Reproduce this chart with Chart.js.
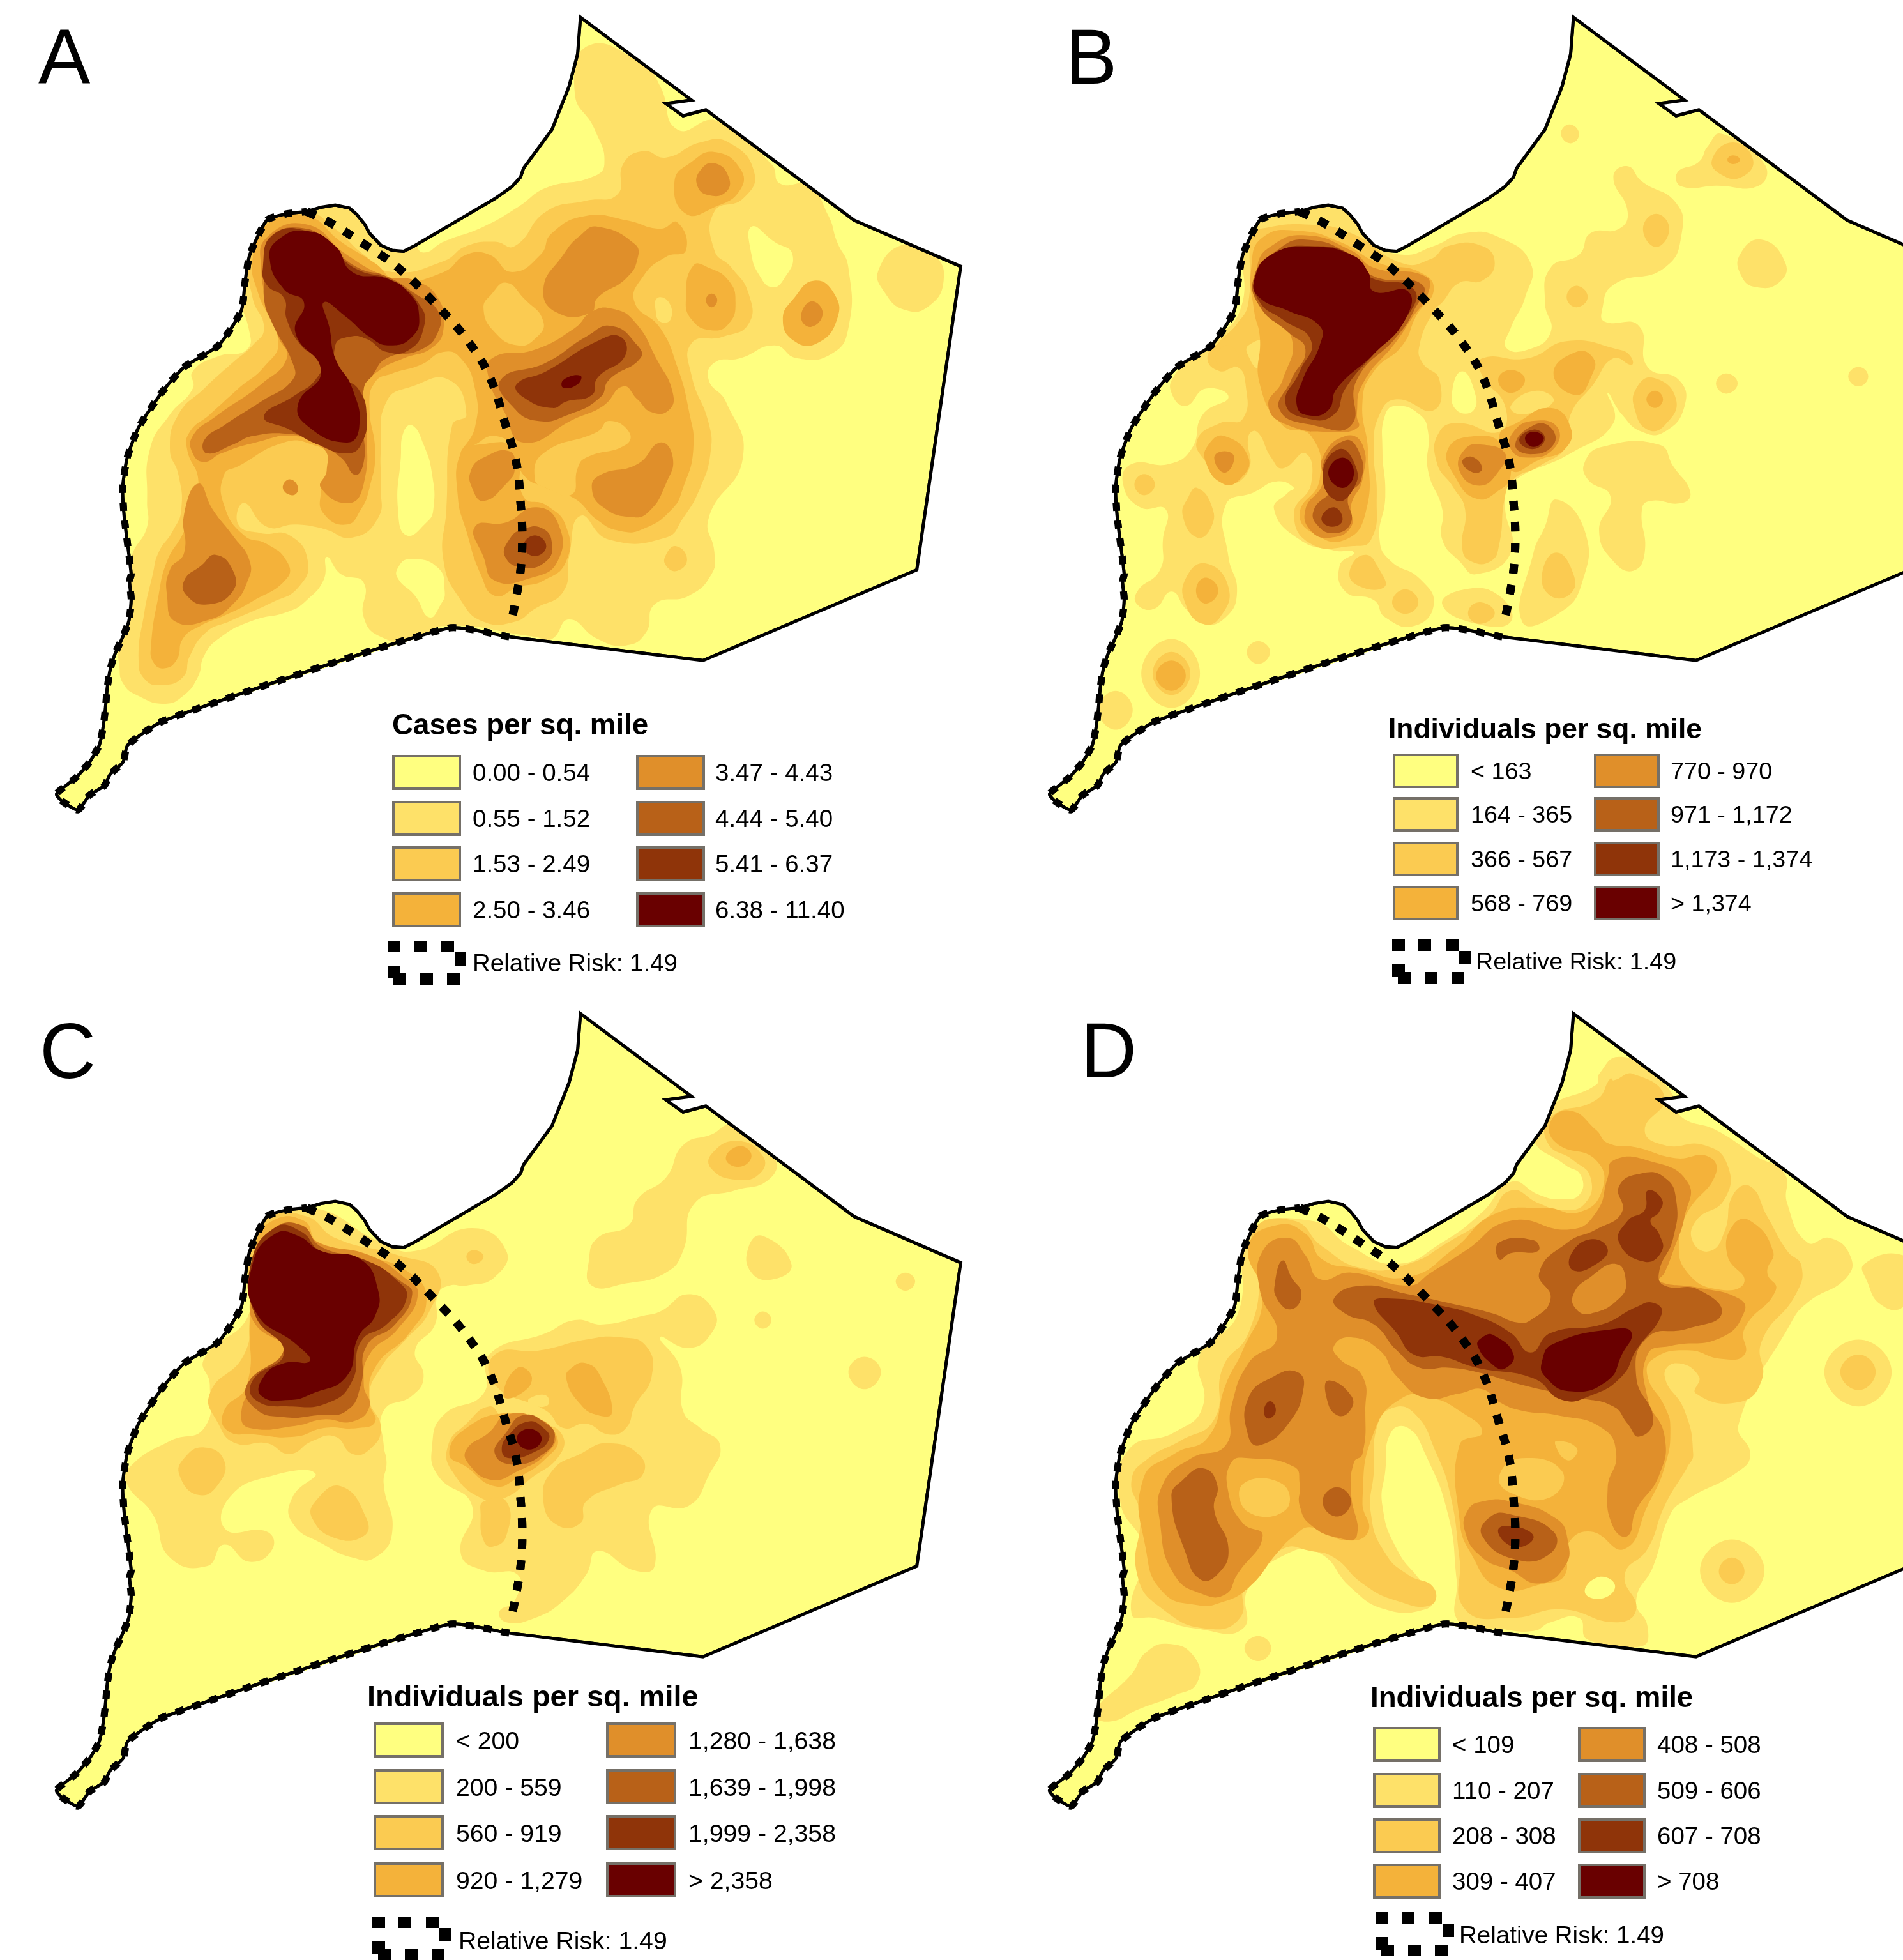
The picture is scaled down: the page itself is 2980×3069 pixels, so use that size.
<!DOCTYPE html>
<html>
<head>
<meta charset="utf-8">
<title>Density maps</title>
<script src="https://cdn.jsdelivr.net/npm/chart.js@4"></script>
<style>
  body { margin: 0; background: #fff; }
  #page { position: relative; width: 2980px; height: 3069px; overflow: hidden; font-family: "Liberation Sans", Arial, sans-serif; color: #000; }
  canvas { position: absolute; }
  .txt { position: absolute; white-space: nowrap; line-height: 1; }
  .swatch { position: absolute; box-sizing: border-box; border: 4px solid #757068; }
  .blk { position: absolute; background: #000; }
</style>
</head>
<body>
<div id="page"></div>
<script>
// class colours, lowest density first
const levelColors = ['#FFFF80', '#FEE169', '#FBCB51', '#F4B23A', '#E08F2A', '#B86118', '#8F3409', '#690000'];

const panelLetters = ['A', 'B', 'C', 'D'];
const legendTitles = ['Cases per sq. mile', 'Individuals per sq. mile', 'Individuals per sq. mile', 'Individuals per sq. mile'];
const labelsA = ['0.00 - 0.54', '0.55 - 1.52', '1.53 - 2.49', '2.50 - 3.46', '3.47 - 4.43', '4.44 - 5.40', '5.41 - 6.37', '6.38 - 11.40'];
const labelsB = ['< 163', '164 - 365', '366 - 567', '568 - 769', '770 - 970', '971 - 1,172', '1,173 - 1,374', '> 1,374'];
const labelsC = ['< 200', '200 - 559', '560 - 919', '920 - 1,279', '1,280 - 1,638', '1,639 - 1,998', '1,999 - 2,358', '> 2,358'];
const labelsD = ['< 109', '110 - 207', '208 - 308', '309 - 407', '408 - 508', '509 - 606', '607 - 708', '> 708'];
const riskLabel = 'Relative Risk: 1.49';

// boundary of the county, x,y pairs in map units
const coastEdge = [725,1475, 618,1455, 120,1669, 56,1726, 48,1765, 25,1794, 15,1820, -11,1842, -31,1876, -59,1856, -69,1839, -34,1800, -11,1765, 6,1726, 13,1682, 17,1638, 20,1593, 26,1546, 34,1513, 47,1476, 58,1438, 62,1388, 59,1346, 62,1330, 50,1200, 47,1130, 55,1060, 75,990, 115,910, 155,850, 215,800, 255,720, 262,650, 270,590, 300,510, 335,495, 370,490];
const eastEdge = [370,490, 395,480, 420,475, 445,482, 458,497, 472,520, 480,540, 500,568, 520,580, 540,582, 558,570, 700,460, 730,432, 745,410, 750,390, 800,300, 830,200, 845,125, 850,40, 1045,232, 1000,240, 1030,268, 1070,254, 1330,510, 1517,617, 1440,1320, 1065,1530, 725,1475];
const riskArc = [370,490, 410,515, 470,565, 530,620, 600,710, 650,785, 690,870, 720,990, 738,1075, 745,1165, 748,1240, 745,1320, 735,1400, 728,1445];

// contour polygons: [class, x,y pairs], painted in this order
const regionsA = [
  [1, [865,105, 840,215, 875,300, 892,380, 870,410, 790,435, 740,480, 680,525, 610,560, 575,585, 555,560, 400,440, 280,500, 240,640, 268,760, 265,810, 215,825, 170,860, 170,900, 130,960, 95,1040, 90,1160, 90,1220, 65,1280, 30,1400, 41,1538, 48,1583, 75,1612, 120,1630, 153,1612, 179,1568, 190,1519, 216,1479, 272,1439, 339,1416, 370,1390, 400,1342, 405,1290, 430,1330, 470,1350, 470,1430, 500,1475, 560,1485, 610,1450, 770,1475, 800,1480, 830,1435, 880,1480, 930,1495, 965,1465, 980,1400, 1040,1380, 1080,1330, 1085,1280, 1075,1200, 1135,1060, 1105,930, 1075,880, 1085,840, 1130,830, 1190,800, 1230,830, 1290,820, 1320,760, 1320,620, 1300,560, 1285,500, 1250,430, 1200,425, 1185,380, 1090,280, 1020,300, 990,200, 960,150]],
  [1, [1420,565, 1470,590, 1487,650, 1460,710, 1420,718, 1385,680, 1373,625]],
  [0, [1150,525, 1190,560, 1222,590, 1205,650, 1185,665, 1165,640, 1150,590]],
  [0, [550,1295, 600,1315, 612,1370, 605,1400, 585,1430, 560,1380, 530,1340, 530,1315]],
  [2, [610,605, 650,570, 700,560, 735,570, 790,490, 860,465, 915,450, 925,380, 960,350, 1000,365, 1060,330, 1110,330, 1155,400, 1135,460, 1085,490, 1085,580, 1115,620, 1145,680, 1145,750, 1100,780, 1045,795, 1045,870, 1075,980, 1078,1050, 1060,1130, 1030,1200, 1000,1245, 900,1250, 850,1195, 830,1290, 820,1370, 770,1410, 735,1440, 680,1440, 640,1390, 610,1300, 615,1180, 625,985, 650,960, 620,880, 555,895, 510,930, 500,1040, 500,1130, 495,1200, 450,1245, 400,1225, 350,1215, 300,1220, 260,1165, 250,1215, 290,1235, 340,1240, 372,1300, 355,1361, 310,1395, 235,1439, 194,1464, 165,1519, 153,1568, 115,1587, 86,1573, 75,1528, 85,1420, 100,1330, 110,1280, 135,1230, 150,1180, 145,1100, 130,1040, 145,960, 190,900, 240,840, 275,800, 295,760, 275,690, 270,600, 300,510, 370,490, 420,530, 470,590, 520,630]],
  [0, [555,985, 575,1030, 590,1100, 592,1180, 580,1210, 545,1240, 530,1180, 535,1060, 540,1000]],
  [2, [1018,1265, 1037,1295, 1020,1322, 1000,1310, 1000,1285]],
  [3, [1085,352, 1130,390, 1130,440, 1085,480, 1035,495, 1015,420, 1045,375]],
  [3, [1048,615, 1075,620, 1110,650, 1122,700, 1110,750, 1080,765, 1045,740, 1035,690]],
  [3, [1260,650, 1295,680, 1300,740, 1265,795, 1225,790, 1205,740, 1225,690]],
  [3, [610,630, 650,590, 690,590, 730,630, 780,590, 800,540, 860,500, 930,510, 990,530, 1020,515, 1035,580, 1000,595, 960,640, 945,700, 990,760, 1020,850, 1040,950, 1048,1040, 1030,1130, 1010,1180, 960,1225, 920,1230, 880,1205, 840,1155, 790,1130, 750,1100, 735,1040, 700,1010, 665,1030, 640,1050, 665,990, 665,900, 640,830, 610,815, 570,845, 520,865, 490,885, 480,940, 490,1050, 480,1130, 465,1180, 440,1215, 400,1190, 395,1140, 410,1060, 380,1030, 330,1025, 250,1080, 225,1100, 225,1170, 260,1240, 300,1260, 335,1300, 335,1340, 272,1395, 227,1425, 183,1450, 153,1479, 142,1528, 120,1548, 101,1534, 97,1494, 110,1380, 125,1300, 155,1230, 165,1180, 180,1115, 160,1040, 165,1000, 200,960, 250,900, 295,850, 320,790, 285,680, 275,600, 300,520, 370,500, 430,560, 490,610, 530,650]],
  [3, [640,1050, 670,1030, 735,1040, 750,1150, 790,1170, 825,1220, 825,1300, 785,1345, 740,1360, 700,1380, 675,1330, 650,1230, 635,1150]],
  [2, [900,975, 935,1000, 930,1030, 860,1060, 845,1085, 835,1145, 790,1130, 770,1110, 785,1050, 880,1000]],
  [2, [720,655, 750,690, 785,745, 770,785, 740,800, 700,770, 680,715, 695,680]],
  [1, [985,690, 1005,700, 1008,740, 990,745, 982,720]],
  [4, [1085,378, 1110,410, 1105,445, 1075,452, 1055,430, 1060,395]],
  [4, [1080,680, 1090,695, 1080,712, 1070,695]],
  [4, [1255,698, 1275,725, 1255,757, 1237,735]],
  [4, [880,525, 945,565, 950,600, 930,645, 880,690, 868,725, 810,725, 785,670, 820,590, 850,545]],
  [4, [870,722, 905,715, 945,745, 985,835, 1012,910, 1005,950, 975,955, 950,925, 925,895, 890,940, 840,970, 750,1025, 715,950, 690,880, 695,830, 770,810, 840,760]],
  [4, [990,1025, 1012,1060, 1000,1120, 970,1185, 940,1198, 890,1175, 870,1130, 885,1100, 950,1075]],
  [4, [725,1045, 735,1085, 720,1120, 680,1160, 660,1130, 658,1090, 680,1060]],
  [4, [665,1220, 720,1210, 770,1175, 810,1210, 810,1300, 760,1340, 700,1345, 680,1290]],
  [4, [290,620, 300,550, 370,520, 440,590, 510,640, 560,650, 600,690, 610,760, 590,805, 540,830, 495,860, 470,900, 475,1000, 470,1120, 445,1165, 395,1130, 405,1090, 400,1040, 350,1010, 280,1025, 220,1050, 190,1070, 170,1050, 170,1010, 210,965, 290,890, 335,830, 320,780, 305,720]],
  [4, [180,1120, 205,1180, 240,1240, 270,1300, 265,1350, 240,1400, 200,1435, 140,1440, 125,1380, 130,1320, 155,1280, 155,1190]],
  [4, [340,1110, 355,1130, 345,1147, 328,1130]],
  [5, [210,1285, 240,1320, 240,1370, 195,1400, 160,1380, 155,1345, 185,1310]],
  [5, [300,620, 305,550, 370,530, 415,575, 460,620, 510,640, 560,680, 600,720, 600,770, 570,810, 510,830, 485,870, 470,900, 470,1000, 470,1070, 455,1100, 430,1060, 380,1020, 340,1005, 275,1010, 240,1030, 195,1050, 190,1020, 225,985, 290,930, 345,880, 345,840, 310,750, 295,690]],
  [5, [710,880, 790,840, 860,780, 905,755, 950,800, 955,830, 900,880, 885,920, 830,960, 775,975, 730,940]],
  [5, [750,1225, 785,1225, 800,1260, 790,1300, 750,1315, 718,1290, 725,1250]],
  [6, [293,620, 310,545, 370,535, 420,585, 460,625, 520,650, 570,710, 575,760, 550,810, 510,815, 475,785, 445,780, 420,800, 430,870, 460,900, 475,960, 465,1030, 440,1050, 390,1030, 340,995, 295,965, 350,915, 385,880, 395,840, 360,800, 335,740, 330,690, 300,660]],
  [6, [738,890, 790,860, 880,790, 920,780, 928,825, 880,875, 870,915, 825,930, 800,945, 750,920]],
  [6, [770,1240, 790,1265, 770,1288, 750,1265]],
  [7, [305,600, 320,555, 370,535, 420,570, 450,630, 510,645, 550,680, 567,730, 555,780, 515,800, 480,780, 440,735, 400,700, 410,760, 420,830, 450,900, 462,990, 440,1025, 370,985, 355,935, 395,860, 350,770, 365,700, 330,670]],
  [7, [820,880, 850,870, 845,890, 820,898]]
];

const regionsB = [
  [1, [420,530, 520,460, 600,500, 640,560, 690,590, 745,570, 800,540, 860,550, 915,610, 905,690, 880,760, 872,805, 910,810, 950,770, 940,700, 950,620, 1000,590, 1020,540, 1070,530, 1085,490, 1060,410, 1085,385, 1110,420, 1170,470, 1180,540, 1150,620, 1060,660, 1040,720, 1045,745, 1105,755, 1120,850, 1175,880, 1185,940, 1150,1000, 1110,1000, 1075,960, 1050,910, 1060,980, 985,1050, 880,1120, 870,1170, 880,1280, 820,1330, 790,1300, 760,1250, 760,1180, 735,1090, 735,1000, 720,960, 680,940, 660,960, 655,1040, 660,1150, 650,1250, 670,1300, 720,1340, 745,1400, 710,1450, 660,1430, 640,1390, 590,1370, 580,1310, 605,1280, 570,1275, 510,1250, 465,1180, 490,1140, 500,1130, 470,1115, 430,1140, 380,1170, 385,1290, 400,1370, 380,1430, 340,1445, 310,1410, 285,1370, 255,1410, 225,1400, 225,1370, 265,1320, 270,1250, 275,1180, 230,1175, 200,1120, 215,1075, 280,1075, 320,1040, 340,960, 385,920, 345,900, 310,940, 285,910, 290,870, 340,800, 405,720]],
  [1, [760,1400, 800,1365, 860,1380, 880,1440, 820,1445]],
  [1, [983,288, 1000,310, 985,332, 968,310]],
  [1, [1250,310, 1325,380, 1315,430, 1240,430, 1180,432, 1172,400, 1210,375, 1225,340]],
  [1, [1320,555, 1362,610, 1350,655, 1310,665, 1285,640, 1282,590]],
  [1, [1258,865, 1278,888, 1258,912, 1240,888]],
  [1, [1490,850, 1507,872, 1490,895, 1472,872]],
  [1, [1010,1070, 1040,1035, 1140,1030, 1165,1080, 1195,1140, 1180,1165, 1125,1160, 1110,1180, 1115,1280, 1095,1322, 1060,1300, 1035,1230, 1055,1150, 1015,1110]],
  [1, [960,1157, 1010,1230, 1005,1350, 965,1420, 900,1440, 920,1280, 940,1220]],
  [1, [437,1485, 458,1510, 437,1538, 417,1510]],
  [1, [285,1480, 335,1560, 285,1640, 232,1560]],
  [1, [187,1600, 217,1644, 187,1690, 157,1644]],
  [0, [795,860, 815,900, 815,950, 785,950, 778,900]],
  [2, [440,530, 520,520, 600,540, 690,610, 740,600, 770,570, 830,570, 852,610, 830,650, 790,655, 760,700, 745,720, 720,800, 725,840, 755,880, 745,950, 680,925, 650,960, 640,1040, 645,1150, 635,1250, 600,1265, 530,1260, 500,1190, 530,1120, 520,1050, 480,1085, 460,1060, 435,1000, 420,1010, 420,1090, 380,1120, 345,1070, 330,1020, 370,980, 410,970, 415,890, 400,850, 370,860, 348,830, 370,790, 400,750, 420,700, 425,540]],
  [1, [420,800, 455,790, 460,830, 440,855, 420,825]],
  [2, [830,830, 910,830, 980,790, 1070,810, 1090,825, 1092,845, 1060,830, 1025,890, 985,960, 980,1030, 930,1080, 885,1110, 870,1150, 860,1260, 845,1300, 810,1300, 795,1270, 800,1180, 780,1130, 750,1070, 755,1000, 790,980, 860,1000, 870,940, 830,870]],
  [1, [880,940, 925,905, 955,930, 900,960]],
  [2, [1135,495, 1158,530, 1135,572, 1112,530]],
  [2, [995,662, 1015,688, 995,712, 978,688]],
  [2, [1130,875, 1170,925, 1150,985, 1120,995, 1098,950, 1100,900]],
  [2, [345,1305, 385,1360, 370,1430, 340,1445, 310,1400, 310,1340]],
  [2, [695,1365, 718,1395, 695,1422, 672,1395]],
  [2, [625,1285, 650,1320, 658,1360, 610,1355, 598,1320]],
  [2, [960,1280, 990,1330, 985,1375, 950,1380, 935,1330]],
  [2, [825,1395, 852,1420, 825,1445, 805,1420]],
  [2, [237,1098, 256,1122, 237,1147, 220,1122]],
  [2, [330,1130, 355,1170, 355,1220, 330,1245, 305,1195, 315,1150]],
  [2, [383,800, 403,830, 383,855, 362,830]],
  [2, [1270,330, 1305,370, 1285,410, 1250,405, 1233,370]],
  [2, [285,1510, 318,1560, 285,1610, 252,1560]],
  [3, [445,550, 510,535, 580,560, 650,610, 720,630, 745,670, 715,730, 690,800, 640,860, 620,930, 630,1050, 625,1190, 590,1250, 540,1240, 510,1190, 545,1110, 530,1010, 480,985, 440,890, 440,780, 430,720, 425,620]],
  [3, [880,857, 905,880, 880,910, 858,880]],
  [3, [995,815, 1025,830, 1022,870, 995,915, 955,865]],
  [3, [770,1040, 820,1010, 865,1030, 880,1100, 855,1140, 820,1155, 785,1110]],
  [3, [860,1010, 890,980, 950,945, 985,990, 975,1040, 930,1065, 880,1090]],
  [3, [1133,905, 1147,925, 1133,945, 1118,925]],
  [3, [378,1010, 420,1060, 405,1110, 375,1120, 345,1070, 350,1030]],
  [3, [345,1338, 367,1368, 345,1398, 328,1368]],
  [3, [1270,360, 1282,370, 1270,380, 1260,370]],
  [3, [285,1530, 310,1565, 285,1600, 258,1565]],
  [4, [435,620, 460,570, 520,545, 600,580, 640,620, 730,640, 735,680, 705,740, 680,790, 620,890, 610,960, 612,990, 570,1000, 490,985, 455,940, 480,880, 495,780, 440,700]],
  [4, [590,1010, 620,1030, 620,1110, 600,1170, 600,1220, 565,1245, 530,1230, 520,1180, 550,1120, 550,1060]],
  [4, [800,1040, 830,1030, 870,1050, 860,1090, 825,1125, 790,1090]],
  [4, [885,1000, 920,975, 962,990, 955,1040, 910,1060, 880,1040]],
  [4, [378,1045, 395,1060, 378,1095, 360,1060]],
  [5, [430,640, 470,580, 520,555, 600,590, 640,640, 725,660, 710,720, 680,780, 610,880, 600,985, 535,985, 475,950, 495,880, 520,810, 490,770, 440,710]],
  [5, [590,1020, 615,1050, 618,1110, 595,1150, 600,1210, 570,1235, 540,1215, 535,1180, 565,1130, 550,1080]],
  [5, [920,985, 950,990, 955,1030, 915,1052, 888,1030]],
  [5, [812,1058, 830,1085, 815,1095, 795,1070]],
  [6, [432,640, 470,585, 530,570, 600,590, 630,640, 710,670, 695,740, 640,820, 590,900, 570,960, 525,970, 485,935, 510,860, 530,790, 480,740, 440,700]],
  [6, [580,1040, 608,1080, 605,1130, 575,1160, 550,1100]],
  [6, [570,1175, 585,1205, 565,1220, 548,1200]],
  [6, [920,995, 940,1015, 920,1040, 895,1020]],
  [7, [430,650, 460,590, 530,572, 600,590, 630,630, 640,675, 700,675, 695,740, 640,820, 575,900, 560,950, 525,962, 505,940, 515,880, 545,800, 545,755, 490,720, 440,690]],
  [7, [585,1060, 605,1095, 585,1130, 560,1095]],
  [7, [920,1000, 938,1015, 920,1035, 905,1015]]
];

const regionsC = [
  [1, [1115,300, 1190,375, 1180,425, 1120,450, 1050,480, 1030,590, 1000,640, 930,665, 870,670, 865,610, 880,560, 935,530, 950,470, 1000,420, 1030,345, 1080,320]],
  [1, [660,537, 720,590, 700,650, 650,670, 620,670, 600,690, 595,760, 560,820, 575,880, 555,925, 505,960, 505,1040, 510,1080, 505,1130, 520,1240, 490,1300, 450,1300, 400,1270, 345,1220, 345,1160, 385,1105, 310,1110, 235,1160, 228,1235, 300,1240, 310,1280, 270,1310, 225,1270, 195,1320, 130,1300, 100,1200, 55,1130, 60,1090, 130,1030, 190,1000, 200,900, 190,840, 270,730, 270,520, 380,490, 500,570, 560,590]],
  [1, [1040,690, 1085,730, 1080,780, 1040,815, 990,790, 1025,860, 1030,960, 1060,1000, 1095,1040, 1075,1110, 1040,1180, 975,1190, 980,1320, 945,1330, 880,1285, 860,1340, 820,1400, 770,1440, 720,1450, 708,1425, 735,1400, 740,1340, 680,1330, 640,1290, 660,1180, 600,1110, 590,1040, 610,970, 680,920, 690,830, 790,780, 840,750, 890,760, 960,740, 990,730]],
  [1, [1170,555, 1220,620, 1190,655, 1150,640, 1145,580]],
  [1, [1420,640, 1437,660, 1420,682, 1403,660]],
  [1, [1170,730, 1185,750, 1170,770, 1155,750]],
  [1, [1348,835, 1377,870, 1348,910, 1320,870]],
  [2, [1125,335, 1170,370, 1165,410, 1125,425, 1080,400, 1080,365]],
  [3, [1130,347, 1150,370, 1128,395, 1105,375]],
  [2, [663,588, 680,603, 663,620, 650,603]],
  [2, [700,830, 780,820, 860,795, 920,790, 965,810, 975,880, 945,950, 930,1000, 900,1015, 860,990, 820,1000, 790,960, 700,900]],
  [2, [900,1035, 955,1065, 958,1110, 920,1130, 860,1170, 850,1220, 810,1225, 785,1170, 800,1100, 850,1060]],
  [1, [760,932, 790,925, 792,948, 762,945]],
  [2, [270,560, 300,510, 370,510, 420,560, 530,600, 600,640, 585,730, 540,800, 500,860, 480,930, 500,1000, 480,1050, 450,1060, 420,1020, 380,1030, 340,1060, 300,1035, 245,1035, 215,990, 200,920, 260,830, 270,730]],
  [2, [190,1045, 225,1075, 215,1130, 180,1155, 147,1110, 155,1070]],
  [2, [430,1135, 475,1210, 470,1250, 420,1255, 380,1210, 385,1170]],
  [2, [690,950, 715,975, 775,990, 815,1010, 815,1060, 760,1120, 720,1160, 680,1165, 625,1100, 618,1040, 650,990]],
  [2, [680,1170, 720,1170, 720,1250, 695,1275, 680,1260, 675,1200]],
  [3, [740,860, 765,885, 740,925, 715,925]],
  [3, [860,850, 885,880, 905,965, 880,970, 850,945, 825,885, 835,860]],
  [3, [280,580, 310,520, 365,520, 390,570, 470,600, 550,640, 580,700, 550,780, 490,860, 480,940, 490,985, 460,1000, 400,1000, 350,1020, 280,1015, 230,1005, 225,960, 265,900, 270,750]],
  [3, [725,965, 775,985, 810,1025, 790,1070, 740,1115, 700,1135, 650,1090, 620,1060, 650,1000]],
  [4, [280,620, 305,545, 360,530, 390,570, 480,600, 540,650, 565,690, 530,770, 480,830, 470,900, 480,950, 450,985, 400,980, 350,995, 270,1000, 255,970, 275,905, 330,820, 280,760, 270,700]],
  [4, [720,970, 770,975, 805,1015, 790,1060, 740,1100, 695,1120, 655,1085, 650,1050, 690,1010]],
  [5, [275,620, 310,540, 360,530, 395,580, 470,610, 535,660, 555,690, 525,760, 475,810, 465,900, 440,960, 390,970, 330,975, 280,955, 265,900, 330,815, 280,740]],
  [5, [750,970, 790,990, 805,1020, 785,1060, 735,1085, 700,1060, 720,1010]],
  [6, [272,620, 315,535, 360,545, 395,590, 470,610, 530,660, 545,700, 510,760, 465,800, 450,890, 410,940, 340,950, 280,935, 275,890, 330,825, 280,740]],
  [6, [758,985, 785,1000, 795,1025, 770,1055, 725,1070, 712,1050, 725,1015]],
  [7, [275,620, 315,550, 355,555, 395,590, 465,610, 495,680, 490,740, 460,790, 440,880, 380,920, 340,935, 290,925, 295,880, 330,850, 375,845, 355,810, 280,730]],
  [7, [760,1002, 782,1025, 760,1050, 738,1025]]
];

const regionsD = [
  [1, [1035,180, 1070,140, 1130,180, 1170,240, 1180,280, 1240,310, 1310,370, 1360,410, 1365,480, 1400,570, 1440,560, 1475,600, 1470,650, 1400,710, 1370,760, 1280,990, 1300,1060, 1280,1100, 1190,1165, 1160,1200, 1130,1320, 1100,1400, 1120,1460, 1110,1505, 1015,1490, 1000,1440, 950,1450, 920,1470, 860,1465, 790,1450, 785,1350, 770,1200, 730,1060, 700,1000, 670,1010, 660,1100, 655,1180, 680,1280, 720,1350, 745,1390, 730,1420, 660,1420, 600,1370, 545,1290, 490,1290, 420,1370, 410,1465, 330,1465, 255,1440, 215,1430, 235,1280, 195,1170, 210,1050, 290,1010, 340,950, 335,830, 400,740, 425,550, 530,520, 600,580, 680,620, 760,570, 830,500, 880,430, 930,460, 965,470, 1000,460, 1003,415, 975,390, 920,330, 945,260, 1030,205]],
  [1, [1500,620, 1568,600, 1590,660, 1568,720, 1530,715, 1505,660]],
  [1, [1490,795, 1548,870, 1490,950, 1430,870]],
  [1, [1268,1258, 1325,1330, 1268,1405, 1212,1330]],
  [1, [437,1482, 460,1510, 437,1540, 413,1510]],
  [1, [280,1500, 325,1530, 330,1590, 290,1620, 230,1650, 175,1680, 150,1660, 215,1570, 240,1520]],
  [2, [1060,195, 1095,180, 1150,235, 1115,310, 1150,345, 1220,345, 1260,390, 1255,470, 1205,520, 1200,570, 1230,590, 1255,545, 1270,460, 1300,440, 1330,510, 1365,590, 1390,625, 1380,690, 1320,800, 1320,890, 1280,940, 1205,920, 1210,880, 1170,850, 1150,880, 1185,960, 1200,1060, 1190,1090, 1150,1180, 1120,1280, 1080,1340, 1100,1420, 1065,1450, 970,1420, 880,1440, 800,1420, 790,1300, 775,1160, 750,1060, 710,965, 670,955, 645,1000, 640,1100, 635,1200, 660,1290, 700,1340, 745,1370, 740,1410, 680,1400, 620,1360, 570,1300, 530,1285, 480,1280, 415,1360, 405,1440, 350,1465, 270,1420, 225,1340, 230,1200, 215,1120, 245,1070, 300,1030, 360,980, 375,860, 420,780, 440,640, 430,540, 500,520, 550,580, 620,630, 700,620, 770,570, 840,510, 880,450, 930,480, 970,495, 1010,480, 1020,420, 990,380, 945,340, 950,280, 1030,240, 1055,190]],
  [0, [1035,1345, 1063,1365, 1040,1395, 1010,1380]],
  [2, [1490,830, 1520,870, 1490,912, 1458,870]],
  [2, [1268,1300, 1290,1332, 1268,1362, 1245,1332]],
  [3, [950,290, 985,265, 1030,310, 1050,340, 1100,350, 1170,375, 1225,370, 1240,410, 1190,500, 1175,560, 1190,640, 1250,680, 1290,660, 1260,600, 1270,530, 1300,520, 1340,590, 1330,640, 1345,680, 1290,770, 1290,830, 1250,840, 1190,820, 1130,840, 1120,880, 1150,950, 1160,1000, 1150,1090, 1120,1180, 1080,1280, 1020,1240, 980,1270, 975,1340, 940,1360, 860,1370, 810,1290, 790,1210, 790,1040, 830,1010, 790,960, 740,930, 690,930, 640,1010, 620,1170, 630,1240, 590,1260, 530,1230, 500,1250, 470,1290, 420,1370, 370,1405, 330,1410, 270,1380, 240,1280, 235,1120, 290,1060, 350,1020, 380,900, 410,820, 445,700, 420,580, 470,530, 520,550, 550,610, 610,630, 700,650, 780,585, 850,505, 940,490, 1000,500, 1040,450, 1030,380, 960,340]],
  [2, [900,1070, 970,1100, 950,1160, 880,1150, 860,1110]],
  [2, [960,1030, 995,1045, 990,1070, 975,1072, 960,1045]],
  [2, [410,1130, 480,1130, 485,1190, 420,1195]],
  [4, [445,590, 490,560, 520,600, 545,655, 600,640, 700,670, 740,640, 800,590, 880,520, 985,540, 1030,500, 1050,420, 1060,380, 1120,380, 1190,430, 1185,510, 1165,590, 1150,640, 1140,660, 1210,675, 1280,700, 1290,730, 1250,790, 1160,810, 1120,830, 1120,930, 1150,1020, 1140,1110, 1100,1190, 1085,1250, 1060,1230, 1050,1140, 1065,1060, 1040,1000, 960,970, 900,960, 860,940, 830,910, 790,920, 730,930, 680,880, 650,820, 600,790, 570,810, 580,840, 620,880, 625,960, 620,1060, 605,1080, 600,1150, 610,1250, 580,1255, 530,1225, 510,1180, 510,1130, 500,1090, 420,1070, 390,1080, 385,1150, 410,1220, 445,1250, 400,1340, 380,1385, 340,1385, 290,1340, 265,1220, 270,1130, 320,1070, 380,1040, 390,950, 420,850, 470,790, 440,680]],
  [4, [830,1170, 880,1170, 960,1210, 980,1260, 975,1320, 930,1360, 880,1330, 830,1300, 800,1240, 805,1190]],
  [5, [480,612, 495,650, 513,690, 495,725, 470,700, 467,660]],
  [5, [465,880, 505,870, 517,905, 490,990, 440,1040, 420,1020, 420,930]],
  [5, [560,890, 600,925, 598,960, 575,970, 557,930]],
  [5, [575,1137, 600,1170, 575,1205, 550,1170]],
  [5, [340,1093, 365,1130, 360,1190, 385,1280, 365,1340, 335,1350, 310,1290, 285,1160, 305,1120]],
  [5, [880,1200, 955,1240, 950,1290, 890,1305, 830,1250, 845,1205]],
  [6, [858,1235, 895,1230, 920,1255, 885,1275]],
  [5, [570,700, 620,670, 700,690, 770,710, 850,735, 890,755, 915,750, 950,700, 930,640, 980,570, 1030,540, 1075,500, 1070,440, 1110,410, 1150,420, 1170,470, 1165,560, 1140,640, 1150,670, 1210,680, 1250,735, 1190,770, 1120,790, 1100,880, 1130,980, 1105,1020, 1085,990, 1060,950, 1000,930, 900,900, 820,870, 770,860, 720,860, 680,820, 640,760, 590,735]],
  [4, [1065,620, 1082,660, 1070,700, 1020,735, 995,725, 990,690, 1020,650]],
  [5, [860,570, 920,565, 928,590, 880,595, 860,610]],
  [6, [640,710, 670,700, 750,715, 820,740, 880,780, 915,825, 950,780, 1040,760, 1100,720, 1130,710, 1145,735, 1100,820, 1075,880, 1020,925, 970,935, 920,885, 820,860, 760,835, 710,830, 680,780]],
  [6, [1120,450, 1145,470, 1140,500, 1125,520, 1140,550, 1145,590, 1115,615, 1070,570, 1085,520, 1115,495]],
  [6, [1020,563, 1050,585, 1030,620, 990,635, 985,600]],
  [6, [458,938, 468,960, 455,978, 447,960]],
  [7, [955,805, 1065,770, 1092,780, 1075,830, 1050,890, 985,915, 940,880, 935,845]],
  [7, [850,785, 885,830, 870,862, 850,855, 822,810, 830,790]]
];

// how one map unit lands on the page
const unitX = 1400 / 1568;
const unitY = 1060 / 1568;

const panels = [
  { regions: regionsA, labels: labelsA, origin: [150, 0], box: [0, 0, 1560, 1560], shift: 0,
    letter: [60, 129, 122], legend: { title: [614, 1150, 45.7], size: 38.5, c1: 614, c2: 996, tx1: 740, tx2: 1120, w: 108, h: 55, rows: [1182, 1254, 1325, 1397], risk: [740, 1507], sym: [607, 1473] } },
  { regions: regionsB, labels: labelsB, origin: [1580, 0], box: [1560, 0, 1420, 1560], shift: 140,
    letter: [1668, 129, 122], legend: { title: [2174, 1156, 44.4], size: 37.7, c1: 2181, c2: 2496, tx1: 2303, tx2: 2616, w: 103, h: 54, rows: [1180, 1248, 1318, 1387], risk: [2311, 1505], sym: [2180, 1471] } },
  { regions: regionsC, labels: labelsC, origin: [150, 1560], box: [0, 1560, 1560, 1509], shift: 0,
    letter: [62, 1686, 122], legend: { title: [575, 2672, 46.9], size: 39.2, c1: 585, c2: 949, tx1: 714, tx2: 1078, w: 110, h: 55, rows: [2697, 2770, 2842, 2916], risk: [718, 3037], sym: [583, 3001] } },
  { regions: regionsD, labels: labelsD, origin: [1580, 1560], box: [1560, 1560, 1420, 1509], shift: 140,
    letter: [1692, 1685, 122], legend: { title: [2146, 2673, 45.7], size: 38.5, c1: 2150, c2: 2471, tx1: 2274, tx2: 2595, w: 106, h: 55, rows: [2704, 2776, 2847, 2918], risk: [2285, 3029], sym: [2154, 2994] } }
];

// the little dashed box of the legend, pieces relative to its corner
const symbolPieces = [[0, 0, 20, 18], [41, 0, 20, 18], [84, 0, 20, 18], [105, 18, 18, 21], [0, 39, 20, 20], [9, 51, 20, 18], [51, 51, 20, 18], [93, 51, 20, 18]];

const page = document.getElementById('page');

function toPoints(flat, dx) {
  const out = [];
  for (let i = 0; i < flat.length; i += 2) {
    out.push({ x: flat[i] + dx, y: flat[i + 1] });
  }
  return out;
}

function addText(str, left, baseline, size, bold) {
  const el = document.createElement('div');
  el.className = 'txt';
  el.textContent = str;
  el.style.left = left + 'px';
  el.style.top = (baseline - size * 0.83) + 'px';
  el.style.fontSize = size + 'px';
  if (bold) el.style.fontWeight = 'bold';
  page.appendChild(el);
}

function drawLegend(p) {
  const lg = p.legend;
  p.labels.forEach((label, i) => {
    const col = i < 4 ? 0 : 1;
    const rowTop = lg.rows[i % 4];
    const sw = document.createElement('div');
    sw.className = 'swatch';
    sw.style.left = (col ? lg.c2 : lg.c1) + 'px';
    sw.style.top = rowTop + 'px';
    sw.style.width = lg.w + 'px';
    sw.style.height = lg.h + 'px';
    sw.style.background = levelColors[i];
    page.appendChild(sw);
    addText(label, col ? lg.tx2 : lg.tx1, rowTop + lg.h / 2 + lg.size * 0.36, lg.size, false);
  });
  symbolPieces.forEach(b => {
    const el = document.createElement('div');
    el.className = 'blk';
    el.style.left = (lg.sym[0] + b[0]) + 'px';
    el.style.top = (lg.sym[1] + b[1]) + 'px';
    el.style.width = b[2] + 'px';
    el.style.height = b[3] + 'px';
    page.appendChild(el);
  });
  addText(riskLabel, lg.risk[0], lg.risk[1] + lg.size * 0.36, lg.size, false);
}

// contours are closed rings, tell the line element so the spline wraps round
const closeRings = {
  id: 'closeRings',
  beforeDatasetsUpdate(chart) {
    chart.data.datasets.forEach((ds, i) => {
      if (ds.isRing) {
        const line = chart.getDatasetMeta(i).dataset;
        line._loop = true;
        line._fullLoop = true;
      }
    });
  }
};

// contours stop at the county line, the edges themselves are drawn again unclipped
const clipToCounty = {
  id: 'clipToCounty',
  beforeDatasetsDraw(chart, args, opts) {
    const ctx = chart.ctx;
    ctx.save();
    ctx.beginPath();
    opts.boundary.forEach((pt, i) => {
      const px = chart.scales.x.getPixelForValue(pt.x);
      const py = chart.scales.y.getPixelForValue(pt.y);
      if (i === 0) ctx.moveTo(px, py); else ctx.lineTo(px, py);
    });
    ctx.closePath();
    ctx.clip();
  },
  afterDatasetsDraw(chart) {
    chart.ctx.restore();
    chart.data.datasets.forEach((ds, i) => {
      if (ds.isEdge) chart.getDatasetMeta(i).controller.draw();
    });
  }
};

panels.forEach((p, n) => {
  const canvas = document.createElement('canvas');
  const [left, top, w, h] = p.box;
  canvas.width = w;
  canvas.height = h;
  canvas.style.left = left + 'px';
  canvas.style.top = top + 'px';
  page.appendChild(canvas);

  const coast = toPoints(coastEdge, p.shift);
  const east = toPoints(eastEdge, p.shift);
  const arc = toPoints(riskArc, p.shift);
  const boundary = coast.concat(east);

  const sets = [{
    data: boundary, showLine: true, pointRadius: 0, borderWidth: 0, tension: 0,
    fill: 'shape', backgroundColor: levelColors[0], borderColor: levelColors[0]
  }];
  p.regions.forEach(r => {
    sets.push({
      data: toPoints(r[1], 0), isRing: true, showLine: true, pointRadius: 0, borderWidth: 0, tension: 0.5,
      fill: 'shape', backgroundColor: levelColors[r[0]], borderColor: levelColors[r[0]]
    });
  });
  sets.push({ data: east, isEdge: true, showLine: true, pointRadius: 0, tension: 0, fill: false, borderColor: '#000', borderWidth: 5 });
  sets.push({ data: coast, isEdge: true, showLine: true, pointRadius: 0, tension: 0.2, fill: false, borderColor: '#000', borderWidth: 5 });
  sets.push({ data: coast, isEdge: true, showLine: true, pointRadius: 0, tension: 0.2, fill: false, borderColor: '#000', borderWidth: 11, borderDash: [13, 15] });
  sets.push({ data: arc, isEdge: true, showLine: true, pointRadius: 0, tension: 0.4, fill: false, borderColor: '#000', borderWidth: 13, borderDash: [15, 18] });

  new Chart(canvas.getContext('2d'), {
    type: 'scatter',
    data: { datasets: sets.reverse() }, // chart.js paints the last dataset first
    options: {
      responsive: false,
      animation: false,
      layout: { padding: 0 },
      scales: {
        x: { type: 'linear', display: false, min: (left - p.origin[0]) / unitX, max: (left + w - p.origin[0]) / unitX },
        y: { type: 'linear', display: false, reverse: true, min: (top - p.origin[1]) / unitY, max: (top + h - p.origin[1]) / unitY }
      },
      plugins: { legend: { display: false }, tooltip: { enabled: false }, clipToCounty: { boundary } }
    },
    plugins: [closeRings, clipToCounty]
  });

  addText(panelLetters[n], p.letter[0], p.letter[1], p.letter[2], false);
  addText(legendTitles[n], p.legend.title[0], p.legend.title[1], p.legend.title[2], true);
  drawLegend(p);
});
</script>
</body>
</html>
